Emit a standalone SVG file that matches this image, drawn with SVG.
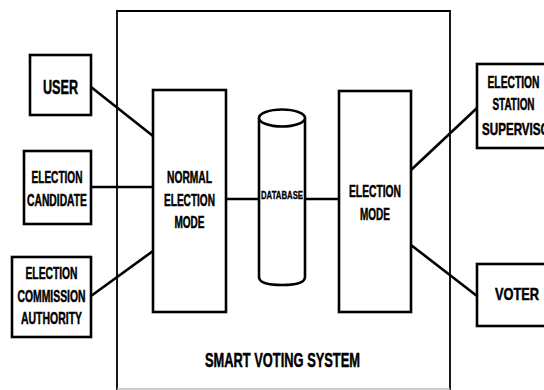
<svg xmlns="http://www.w3.org/2000/svg" width="544" height="390" viewBox="0 0 544 390">
<style>
.box{fill:#fff;stroke:#000;stroke-width:2.6}
.sys{fill:none;stroke:#000;stroke-width:1.8}
.ln{stroke:#000;stroke-width:2.6;fill:none}
text{font-family:"Liberation Sans Narrow","Liberation Sans",Arial,sans-serif;font-weight:bold;fill:#000;stroke:#000;stroke-width:0.5;text-anchor:middle}
.t{font-size:16.5px}
.tl{font-size:20.5px}
.ts{font-size:10.5px;stroke-width:0.3}
</style>
<rect width="544" height="390" fill="#fff"/>
<g id="system">
<path class="sys" d="M117,390 V11 H450 V390"/>
<line x1="117" y1="389" x2="450" y2="389" stroke="#bbb" stroke-width="1.5"/>
<text class="tl" x="282.5" y="367" textLength="155" lengthAdjust="spacingAndGlyphs">SMART VOTING SYSTEM</text>
</g>
<g id="connectors">
<line class="ln" x1="91" y1="87" x2="153" y2="136"/>
<line class="ln" x1="91" y1="187" x2="153" y2="187"/>
<line class="ln" x1="91" y1="296" x2="153" y2="251"/>
<line class="ln" x1="226" y1="199" x2="259" y2="199"/>
<line class="ln" x1="305" y1="199" x2="339" y2="199"/>
<line class="ln" x1="411" y1="170" x2="477" y2="108"/>
<line class="ln" x1="411" y1="245" x2="477" y2="296"/>
</g>
<g id="user">
<rect class="box" x="30" y="55" width="61" height="60"/>
<text class="tl" x="60.5" y="94" textLength="35" lengthAdjust="spacingAndGlyphs">USER</text>
</g>
<g id="candidate">
<rect class="box" x="24" y="151" width="67" height="73"/>
<text class="t" x="57" y="183" textLength="51" lengthAdjust="spacingAndGlyphs">ELECTION</text>
<text class="t" x="57" y="206" textLength="60" lengthAdjust="spacingAndGlyphs">CANDIDATE</text>
</g>
<g id="commission">
<rect class="box" x="12" y="257" width="79" height="80"/>
<text class="t" x="51.5" y="279" textLength="52" lengthAdjust="spacingAndGlyphs">ELECTION</text>
<text class="t" x="51.5" y="302" textLength="68" lengthAdjust="spacingAndGlyphs">COMMISSION</text>
<text class="t" x="51.5" y="324" textLength="61" lengthAdjust="spacingAndGlyphs">AUTHORITY</text>
</g>
<g id="normal-mode">
<rect class="box" x="153" y="90" width="73" height="222"/>
<text class="t" x="189.5" y="183" textLength="45" lengthAdjust="spacingAndGlyphs">NORMAL</text>
<text class="t" x="189.5" y="206" textLength="51" lengthAdjust="spacingAndGlyphs">ELECTION</text>
<text class="t" x="189.5" y="228" textLength="30" lengthAdjust="spacingAndGlyphs">MODE</text>
</g>
<g id="database">
<path class="box" d="M259,118 V277 Q259,285 282,285 Q305,285 305,277 V118"/>
<ellipse class="box" cx="282" cy="118" rx="23" ry="8.5"/>
<text class="ts" x="282" y="199" textLength="42" lengthAdjust="spacingAndGlyphs">DATABASE</text>
</g>
<g id="election-mode">
<rect class="box" x="339" y="91" width="72" height="221"/>
<text class="t" x="375" y="197" textLength="52" lengthAdjust="spacingAndGlyphs">ELECTION</text>
<text class="t" x="375" y="220" textLength="30" lengthAdjust="spacingAndGlyphs">MODE</text>
</g>
<g id="supervisor">
<rect class="box" x="477" y="64" width="90" height="84"/>
<text class="t" x="513.5" y="88" textLength="52" lengthAdjust="spacingAndGlyphs">ELECTION</text>
<text class="t" x="513.5" y="110" textLength="42" lengthAdjust="spacingAndGlyphs">STATION</text>
<text class="t" x="520" y="135" textLength="76" lengthAdjust="spacingAndGlyphs">SUPERVISOR</text>
</g>
<g id="voter">
<rect class="box" x="477" y="264" width="90" height="62"/>
<text class="t" x="517" y="300" textLength="44" lengthAdjust="spacingAndGlyphs">VOTER</text>
</g>
</svg>
